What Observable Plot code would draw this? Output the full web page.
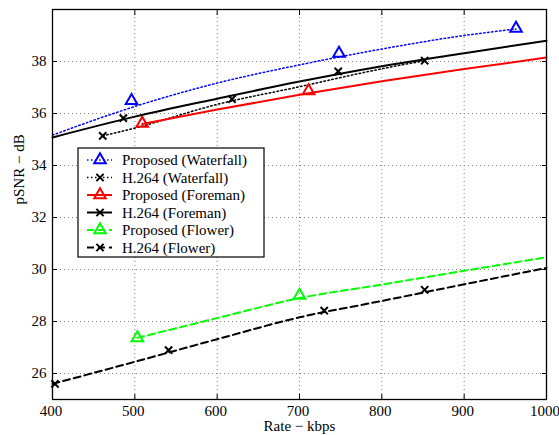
<!DOCTYPE html>
<html><head><meta charset="utf-8">
<script src="https://cdn.jsdelivr.net/npm/d3@7"></script>
<script src="https://cdn.jsdelivr.net/npm/@observablehq/plot@0.6"></script>
<style>body{margin:0;background:#fff}#chart{position:relative}#chart svg, #chart svg text{font-family:"Liberation Serif","Times New Roman",serif !important}</style>
</head><body><div id="chart"></div>
<script>
// ---- data ----
const xTicks = [400, 500, 600, 700, 800, 900, 1000];
const yTicks = [26, 28, 30, 32, 34, 36, 38];
const seriesNames = ["Proposed (Waterfall)", "H.264 (Waterfall)", "Proposed (Foreman)", "H.264 (Foreman)", "Proposed (Flower)", "H.264 (Flower)"];

// fitted curves (line points)
const wfPropLineRate = [400, 500, 600, 700, 800, 900, 963];
const wfPropLinePsnr = [35.17, 36.27, 37.17, 37.87, 38.48, 39.0, 39.25];
const wfH264LineRate = [461, 500, 600, 700, 800, 852];
const wfH264LinePsnr = [35.14, 35.44, 36.35, 37.03, 37.72, 38.03];
const fmPropLineRate = [509, 600, 700, 800, 900, 1000];
const fmPropLinePsnr = [35.6, 36.15, 36.72, 37.24, 37.71, 38.15];
const fmH264LineRate = [400, 500, 600, 700, 800, 900, 1000];
const fmH264LinePsnr = [35.08, 35.88, 36.57, 37.23, 37.82, 38.32, 38.8];
const flPropLineRate = [503, 600, 700, 800, 900, 1000];
const flPropLinePsnr = [27.37, 28.13, 28.9, 29.42, 29.95, 30.47];
const flH264LineRate = [400, 500, 600, 700, 800, 900, 1000];
const flH264LinePsnr = [25.6, 26.45, 27.32, 28.16, 28.79, 29.43, 30.06];

// measured points (markers)
const wfPropRate = [496, 748, 963];
const wfPropPsnr = [36.49, 38.31, 39.27];
const wfH264Rate = [461, 618, 852];
const wfH264Psnr = [35.14, 36.55, 38.03];
const fmPropRate = [509, 711];
const fmPropPsnr = [35.62, 36.87];
const fmH264Rate = [486, 747];
const fmH264Psnr = [35.82, 37.62];
const flPropRate = [503, 700];
const flPropPsnr = [27.37, 29.0];
const flH264Rate = [403, 541, 730, 852];
const flH264Psnr = [25.6, 26.9, 28.42, 29.22];

// ---- styles ----
const styles = [
  {color: "#0000ff", dash: "1.5,2.5", symbol: "triangle", lw: 1.5},
  {color: "#000000", dash: "1.5,2.5", symbol: "times", lw: 1.5},
  {color: "#ff0000", dash: null, symbol: "triangle", lw: 2},
  {color: "#000000", dash: null, symbol: "times", lw: 2},
  {color: "#00ff00", dash: "7,4", symbol: "triangle", lw: 2},
  {color: "#000000", dash: "7,4", symbol: "times", lw: 2}
];
const lineSets = [
  [wfPropLineRate, wfPropLinePsnr], [wfH264LineRate, wfH264LinePsnr],
  [fmPropLineRate, fmPropLinePsnr], [fmH264LineRate, fmH264LinePsnr],
  [flPropLineRate, flPropLinePsnr], [flH264LineRate, flH264LinePsnr]
];
const markSets = [
  [wfPropRate, wfPropPsnr], [wfH264Rate, wfH264Psnr],
  [fmPropRate, fmPropPsnr], [fmH264Rate, fmH264Psnr],
  [flPropRate, flPropPsnr], [flH264Rate, flH264Psnr]
];

const FONT = "Liberation Serif, Times New Roman, serif";
const gridStyle = {stroke: "#808080", strokeOpacity: 1, strokeDasharray: "1,3", strokeWidth: 1};

const marks = [
  Plot.gridX(xTicks, gridStyle),
  Plot.gridY(yTicks, gridStyle)
];
seriesNames.forEach((name, i) => {
  const s = styles[i];
  const lrows = lineSets[i][0].map((r, j) => ({rate: r, psnr: lineSets[i][1][j]}));
  const mrows = markSets[i][0].map((r, j) => ({rate: r, psnr: markSets[i][1][j]}));
  marks.push(Plot.line(lrows, {x: "rate", y: "psnr", stroke: s.color, strokeWidth: s.lw, strokeDasharray: s.dash, curve: "monotone-x"}));
  marks.push(Plot.dot(mrows, {x: "rate", y: "psnr", symbol: () => s.symbol, r: s.symbol === "triangle" ? 4.3 : 3.4, stroke: s.color, fill: "none", strokeWidth: 2}));
});
marks.push(
  Plot.axisX(xTicks, {anchor: "bottom", tickSize: 0, tickPadding: 6, label: null, fontSize: 15, dx: -1.5, tickFormat: d => String(d)}),
  Plot.axisY(yTicks, {anchor: "left", tickSize: 0, tickPadding: 6, label: null, fontSize: 15, tickFormat: d => String(d)}),
  Plot.axisX(xTicks, {anchor: "bottom", tickSize: -5, text: null, label: null}),
  Plot.axisX(xTicks, {anchor: "top", tickSize: -5, text: null, label: null}),
  Plot.axisY(yTicks, {anchor: "left", tickSize: -5, text: null, label: null}),
  Plot.axisY(yTicks, {anchor: "right", tickSize: -5, text: null, label: null}),
  Plot.frame({stroke: "black", strokeWidth: 1.3}),
  Plot.text(["Rate − kbps"], {frameAnchor: "bottom", dy: 31.5, text: d => d, fontSize: 15}),
  Plot.text(["pSNR − dB"], {frameAnchor: "left", dx: -33, rotate: -90, text: d => d, fontSize: 15})
);

const chart = Plot.plot({
  width: 559, height: 435,
  marginLeft: 52, marginRight: 13, marginTop: 9, marginBottom: 36,
  x: {domain: [400, 1000]},
  y: {domain: [25, 40]},
  style: {fontSize: "15px", color: "black", background: "white", overflow: "visible"},
  marks
});
document.getElementById("chart").appendChild(chart);
d3.select(chart).attr("font-family", FONT).style("font-family", FONT);
d3.select(chart).selectAll("text").attr("font-family", FONT).style("font-family", FONT);

// ---- legend (drawn inside the svg) ----
const svg = d3.select(chart);
const lg = svg.append("g").attr("font-family", FONT).attr("font-size", 15).attr("text-anchor", "start");
const box = {x: 78, y: 148, w: 186, h: 109};
lg.append("rect").attr("x", box.x).attr("y", box.y).attr("width", box.w).attr("height", box.h)
  .attr("fill", "white").attr("stroke", "black").attr("stroke-width", 1.2);
const rowY = i => box.y + 12 + i * 17.5;
seriesNames.forEach((name, i) => {
  const s = styles[i];
  const y = rowY(i);
  lg.append("line").attr("x1", box.x + 9).attr("x2", box.x + 34).attr("y1", y).attr("y2", y)
    .attr("stroke", s.color).attr("stroke-width", s.lw).attr("stroke-dasharray", s.dash);
  const sym = s.symbol === "triangle" ? d3.symbol(d3.symbolTriangle, 4.3 * 4.3 * Math.PI) : d3.symbol(d3.symbolTimes, 3.4 * 3.4 * Math.PI);
  lg.append("path").attr("d", sym()).attr("transform", `translate(${box.x + 22},${y})`)
    .attr("fill", "none").attr("stroke", s.color).attr("stroke-width", 2);
  lg.append("text").attr("x", box.x + 44).attr("y", y).attr("dy", "0.35em").attr("fill", "black")
    .attr("text-anchor", "start").style("font-family", FONT).text(name);
});
</script>
</body></html>
